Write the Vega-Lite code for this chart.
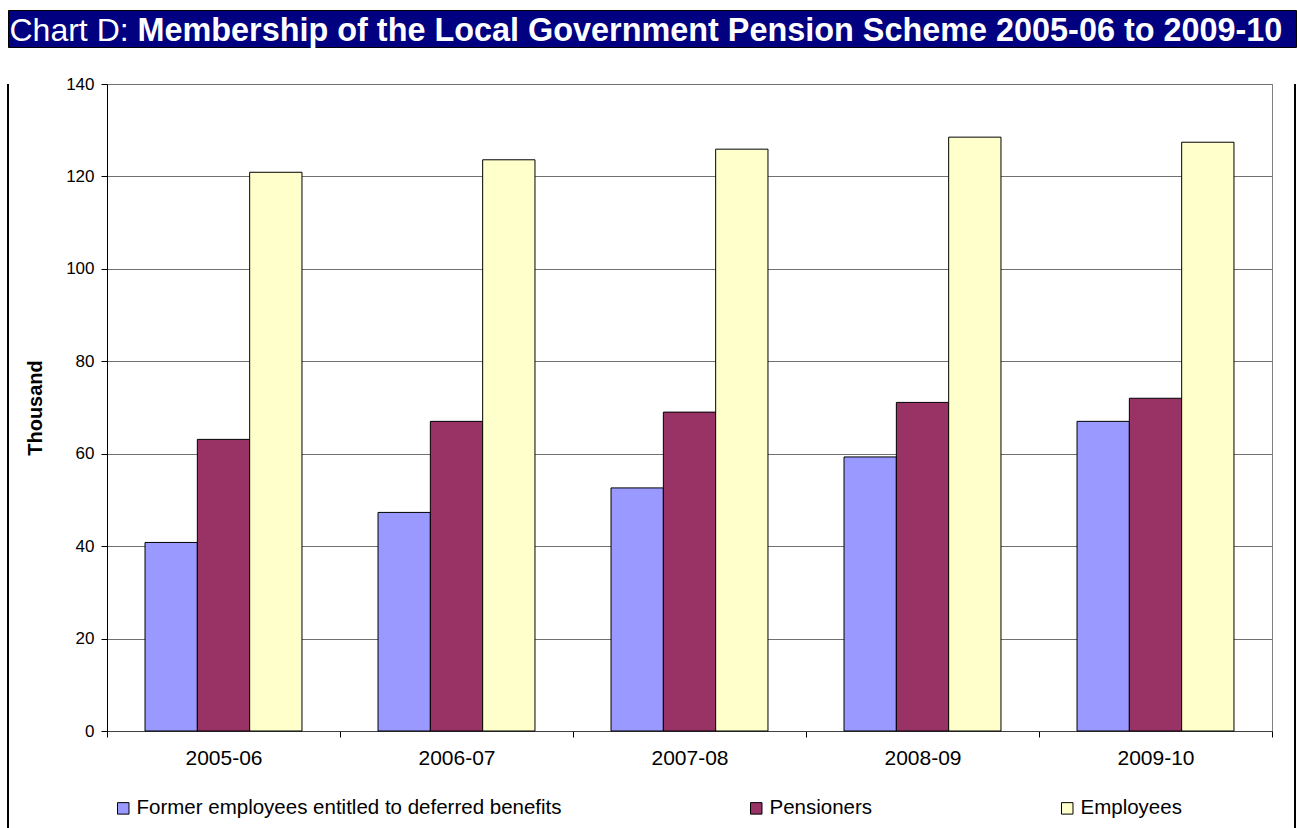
{
  "$schema": "https://vega.github.io/schema/vega-lite/v6.json",
  "padding": {"left": 7, "top": 9, "right": 0, "bottom": 0},
  "background": "white",
  "spacing": 37,
  "bounds": "flush",
  "resolve": {"scale": {"color": "independent", "x": "independent", "y": "independent"}},
  "config": {
    "font": "Liberation Sans",
    "view": {"stroke": null}
  },
  "vconcat": [
    {
      "width": 1288,
      "height": 37,
      "data": {"values": [{"t": "h"}]},
      "mark": {"type": "text", "text": ""},
      "encoding": {
        "x": {
          "field": "t", "type": "nominal",
          "axis": {
            "orient": "top", "title": "Membership of the Local Government Pension Scheme 2005-06 to 2009-10",
            "domain": false, "ticks": false, "labels": false, "grid": false,
            "titleX": 129, "titleY": 30, "titleAlign": "left", "titleAnchor": "start", "titleBaseline": "alphabetic", "titleAngle": 0,
            "titleColor": "white", "titleFont": "Liberation Sans", "titleFontSize": 32.4, "titleFontWeight": "bold"
          }
        },
        "y": {
          "field": "t", "type": "nominal",
          "axis": {
            "orient": "left", "title": "Chart D:",
            "domain": false, "ticks": false, "labels": false, "grid": false,
            "titleX": 1, "titleY": 30, "titleAlign": "left", "titleAnchor": "start", "titleBaseline": "alphabetic", "titleAngle": 0,
            "titleColor": "white", "titleFont": "Liberation Sans", "titleFontSize": 32, "titleFontWeight": "normal"
          }
        }
      },
      "view": {"fill": "#000080", "stroke": "black"}
    },
    {
      "hconcat": [
        {
          "width": 99,
          "height": 744,
          "data": {"values": [{"t": ""}]},
          "mark": {"type": "text"},
          "encoding": {"text": {"field": "t"}},
          "view": {"stroke": "black", "strokeWidth": 2, "strokeDash": [0, 942, 744, 0]}
        },
        {
          "width": 1165,
          "height": 647,
          "data": {
            "values": [
              {"year": "2005-06", "series": "Former employees entitled to deferred benefits", "value": 40.8},
              {"year": "2005-06", "series": "Pensioners", "value": 63.1},
              {"year": "2005-06", "series": "Employees", "value": 120.9},
              {"year": "2006-07", "series": "Former employees entitled to deferred benefits", "value": 47.3},
              {"year": "2006-07", "series": "Pensioners", "value": 67.0},
              {"year": "2006-07", "series": "Employees", "value": 123.6},
              {"year": "2007-08", "series": "Former employees entitled to deferred benefits", "value": 52.6},
              {"year": "2007-08", "series": "Pensioners", "value": 69.0},
              {"year": "2007-08", "series": "Employees", "value": 125.9},
              {"year": "2008-09", "series": "Former employees entitled to deferred benefits", "value": 59.3},
              {"year": "2008-09", "series": "Pensioners", "value": 71.1},
              {"year": "2008-09", "series": "Employees", "value": 128.5},
              {"year": "2009-10", "series": "Former employees entitled to deferred benefits", "value": 67.0},
              {"year": "2009-10", "series": "Pensioners", "value": 72.0},
              {"year": "2009-10", "series": "Employees", "value": 127.4}
            ]
          },
          "mark": {"type": "bar", "stroke": "black", "strokeWidth": 1},
          "encoding": {
            "x": {
              "field": "year", "type": "nominal",
              "scale": {"paddingInner": 0, "paddingOuter": 0},
              "axis": {
                "title": null, "labelAngle": 0, "labelFont": "Liberation Sans", "labelFontSize": 21, "labelColor": "black",
                "labelPadding": 10, "tickBand": "extent", "tickSize": 6, "tickColor": "black", "domainColor": "#404040", "grid": false
              }
            },
            "xOffset": {
              "field": "series", "type": "nominal",
              "sort": ["Former employees entitled to deferred benefits", "Pensioners", "Employees"],
              "scale": {"paddingInner": 0, "paddingOuter": 0.727}
            },
            "y": {
              "field": "value", "type": "quantitative",
              "scale": {"domain": [0, 140], "nice": false},
              "axis": {
                "values": [0, 20, 40, 60, 80, 100, 120, 140],
                "title": "Thousand", "titleFont": "Liberation Sans", "titleFontSize": 20, "titleFontWeight": "bold", "titleColor": "black", "titlePadding": 20,
                "labelFont": "Liberation Sans", "labelFontSize": 17, "labelColor": "black", "labelPadding": 7,
                "tickSize": 6, "tickColor": "black", "domainColor": "black",
                "grid": true, "gridColor": "#707070", "gridOpacity": 1
              }
            },
            "color": {
              "field": "series", "type": "nominal",
              "sort": ["Former employees entitled to deferred benefits", "Pensioners", "Employees"],
              "scale": {"domain": ["Former employees entitled to deferred benefits", "Pensioners", "Employees"], "range": ["#9999FF", "#993366", "#FFFFCC"]},
              "legend": {
                "title": null, "orient": "bottom", "direction": "horizontal", "columns": 3, "columnPadding": 184,
                "symbolType": "square", "symbolSize": 132, "symbolStrokeColor": "black", "symbolStrokeWidth": 1, "symbolOpacity": 1,
                "labelFont": "Liberation Sans", "labelFontSize": 20.5, "labelColor": "black", "labelLimit": 700, "labelOffset": 3,
                "offset": 24, "padding": 6
              }
            }
          },
          "view": {"stroke": "#808080", "fill": "white"}
        },
        {
          "width": 23,
          "height": 744,
          "data": {"values": [{"t": ""}]},
          "mark": {"type": "text"},
          "encoding": {"text": {"field": "t"}},
          "view": {"stroke": "black", "strokeWidth": 2, "strokeDash": [0, 23, 744, 767]}
        }
      ],
      "spacing": 0,
      "bounds": "flush",
      "resolve": {"scale": {"color": "independent", "x": "independent", "y": "independent"}}
    }
  ]
}
